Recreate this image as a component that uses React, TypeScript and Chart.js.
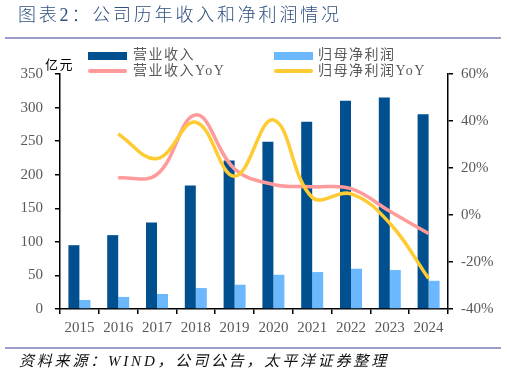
import React, { useEffect, useRef } from "react";
import { Chart, registerables } from "chart.js";

Chart.register(...registerables);

const years = ["2015", "2016", "2017", "2018", "2019", "2020", "2021", "2022", "2023", "2024"];
const revenue = [95, 110, 129, 184, 221, 249, 279, 310, 315, 290];
const netProfit = [13.4, 18, 22.3, 31.2, 36.2, 51, 55, 60, 58, 42];
const revenueYoY = [null, 15.8, 17.3, 42.6, 19.6, 13, 12, 11.2, 1.6, -7.9];
const profitYoY = [null, 34.5, 24, 39.5, 16.5, 40.5, 7.5, 9, -3.5, -27];
const leftTicks = [0, 50, 100, 150, 200, 250, 300, 350];
const rightTicks = [-40, -20, 0, 20, 40, 60];

const DARK = "#00508F";
const LIGHT = "#6CB8FF";
const PINK = "#FF9A9A";
const YELLOW = "#FFCB32";
const TICK_FONT = { family: "'Liberation Serif', 'Times New Roman', serif", size: 15 };
const TICK_COLOR = "#595959";
const CJK = "'Liberation Serif', 'Noto Sans CJK SC', serif";

export default function App() {
  const ref = useRef<HTMLCanvasElement | null>(null);

  useEffect(() => {
    if (!ref.current) return;
    const chart = new Chart(ref.current, {
      type: "bar",
      data: {
        labels: years,
        datasets: [
          {
            type: "line",
            label: "归母净利润YoY",
            data: profitYoY as any,
            yAxisID: "y1",
            borderColor: YELLOW,
            borderWidth: 3.5,
            pointRadius: 0,
            tension: 0.4,
            order: 0,
          },
          {
            type: "line",
            label: "营业收入YoY",
            data: revenueYoY as any,
            yAxisID: "y1",
            borderColor: PINK,
            borderWidth: 3.5,
            pointRadius: 0,
            tension: 0.4,
            order: 1,
          },
          {
            type: "bar",
            label: "营业收入",
            data: revenue,
            yAxisID: "y",
            backgroundColor: DARK,
            categoryPercentage: 0.567,
            barPercentage: 1,
            order: 2,
          },
          {
            type: "bar",
            label: "归母净利润",
            data: netProfit,
            yAxisID: "y",
            backgroundColor: LIGHT,
            categoryPercentage: 0.567,
            barPercentage: 1,
            order: 3,
          },
        ],
      },
      options: {
        animation: false,
        responsive: false,
        devicePixelRatio: 1,
        layout: { padding: { top: 74, bottom: 34, left: 0, right: 0 } },
        plugins: { legend: { display: false }, tooltip: { enabled: false } },
        scales: {
          x: {
            offset: true,
            grid: { offset: true, drawOnChartArea: false, drawTicks: true, tickLength: 5, color: "#000", lineWidth: 1.5 },
            border: { color: "#000", width: 1.5 },
            ticks: { font: TICK_FONT, color: TICK_COLOR, padding: 5, maxRotation: 0 },
            afterFit: (s: any) => { s.height = 31; },
          },
          y: {
            position: "left",
            min: 0,
            max: 350,
            afterBuildTicks: (s: any) => { s.ticks = leftTicks.map((v) => ({ value: v })); },
            grid: { drawOnChartArea: false, drawTicks: true, tickLength: 5, color: "#000", lineWidth: 1.5 },
            border: { color: "#000", width: 1.5 },
            ticks: { font: TICK_FONT, color: TICK_COLOR, padding: 12 },
            afterFit: (s: any) => { s.width = 60; },
          },
          y1: {
            position: "right",
            min: -40,
            max: 60,
            afterBuildTicks: (s: any) => { s.ticks = rightTicks.map((v) => ({ value: v })); },
            grid: { drawOnChartArea: false, drawTicks: true, tickLength: 5, color: "#000", lineWidth: 1.5 },
            border: { color: "#000", width: 1.5 },
            ticks: { font: TICK_FONT, color: TICK_COLOR, padding: 8, callback: (v: any) => v + "%" },
            afterFit: (s: any) => { s.width = 59; },
          },
        },
      },
    });
    return () => chart.destroy();
  }, []);

  const abs = (o: any): React.CSSProperties => ({ position: "absolute", ...o });
  const legendText: React.CSSProperties = {
    position: "absolute",
    fontFamily: CJK,
    fontSize: 14,
    letterSpacing: 1.5,
    color: "#595959",
    lineHeight: "16px",
    whiteSpace: "nowrap",
  };

  return (
    <div style={{ position: "fixed", left: 0, top: 0, width: 507, height: 374, background: "#fff", overflow: "hidden" }}>
      <canvas ref={ref} width={507} height={374} style={{ position: "absolute", left: 0, top: 0, width: 507, height: 374 }} />
      <div style={abs({ left: 18, top: 4, fontFamily: "'Liberation Serif', 'Noto Sans CJK SC', serif", fontWeight: 300, fontSize: 18, letterSpacing: 2.8, color: "#2E4F7F", lineHeight: "22px", whiteSpace: "nowrap" })}>
        图表2：公司历年收入和净利润情况
      </div>
      <div style={abs({ left: 5, top: 37, width: 496, height: 1.5, background: "#9C9CCB" })} />
      <div style={abs({ left: 88, top: 52, width: 39, height: 8, background: DARK })} />
      <div style={{ ...legendText, left: 133, top: 47 }}>营业收入</div>
      <div style={abs({ left: 274, top: 52, width: 39, height: 8, background: LIGHT })} />
      <div style={{ ...legendText, left: 318, top: 47 }}>归母净利润</div>
      <div style={abs({ left: 88, top: 69, width: 39, height: 4, borderRadius: 2, background: PINK })} />
      <div style={{ ...legendText, left: 133, top: 63 }}>营业收入YoY</div>
      <div style={abs({ left: 274, top: 69, width: 39, height: 4, borderRadius: 2, background: YELLOW })} />
      <div style={{ ...legendText, left: 318, top: 63 }}>归母净利润YoY</div>
      <div style={abs({ left: 45, top: 56, fontFamily: "'Noto Sans CJK SC', sans-serif", fontSize: 13, letterSpacing: 1.5, color: "#000", lineHeight: "15px" })}>亿元</div>
      <div style={abs({ left: 5, top: 347, width: 496, height: 1.5, background: "#9C9CCB" })} />
      <div style={abs({ left: 19, top: 352, fontFamily: CJK, fontStyle: "italic", fontSize: 15, letterSpacing: 2.8, color: "#111", lineHeight: "18px", whiteSpace: "nowrap" })}>
        资料来源：WIND，公司公告，太平洋证券整理
      </div>
    </div>
  );
}
